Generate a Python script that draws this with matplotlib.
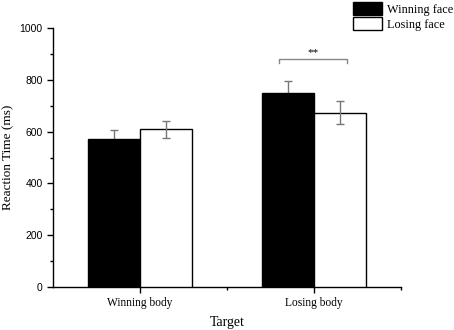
import numpy as np
import matplotlib.pyplot as plt
from matplotlib.patches import Patch

# data
targets = ["Winning body", "Losing body"]
winning_face = [572, 748]
winning_face_err = [33, 46]
losing_face = [609, 674]
losing_face_err = [34, 45]
y_ticks = [0, 200, 400, 600, 800, 1000]

plt.rcParams.update({'font.family': 'sans-serif',
                     'font.sans-serif': ['Liberation Sans'],
                     'axes.linewidth': 1.0,
                     'xtick.direction': 'out',
                     'ytick.direction': 'out'})
serif = 'Liberation Serif'

fig = plt.figure(figsize=(4.54, 3.30), dpi=100)
ax = fig.add_axes([0.117, 0.130, 0.766, 0.785])

x = np.arange(1, len(targets) + 1)
w = 0.3
ax.bar(x - w/2, winning_face, w, color='black', edgecolor='black', lw=1, zorder=3)
ax.errorbar(x - w/2, winning_face, yerr=winning_face_err, fmt='none',
            ecolor='#777777', elinewidth=1, capsize=3, capthick=1, zorder=2)
ax.bar(x + w/2, losing_face, w, color='white', edgecolor='black', lw=1, zorder=3)
ax.errorbar(x + w/2, losing_face, yerr=losing_face_err, fmt='none',
            ecolor='#777777', elinewidth=1, capsize=3, capthick=1, zorder=4)

# significance bracket
bx0, bx1, by = 1.8, 2.19, 881
ax.plot([bx0, bx0, bx1, bx1], [by - 14, by, by, by - 14], color='#888888', lw=1,
        clip_on=False)
ax.text((bx0 + bx1) / 2, by + 8, "**", ha='center', va='bottom', fontsize=8,
        family=serif)

ax.set_xlim(0.5, 2.5)
ax.set_ylim(0, 1000)
ax.set_xticks(x)
ax.set_xticklabels(targets, family=serif, fontsize=8.3)
ax.set_xticks([1.5, 2.5], minor=True)
ax.set_yticks(y_ticks)
ax.set_yticks(np.arange(100, 1000, 200), minor=True)
ax.tick_params(axis='y', labelsize=7.5, length=4, width=1)
ax.tick_params(axis='x', length=4, width=1, pad=3)
ax.tick_params(which='minor', length=2.5, width=1)
ax.spines['top'].set_visible(False)
ax.spines['right'].set_visible(False)

ax.set_ylabel("Reaction Time (ms)", family=serif, fontsize=9.5, labelpad=4)
ax.set_xlabel("Target", family=serif, fontsize=10, labelpad=5)

handles = [Patch(facecolor='black', edgecolor='black', lw=1),
           Patch(facecolor='white', edgecolor='black', lw=1)]
fig.legend(handles, ["Winning face", "Losing face"], loc='upper left',
           bbox_to_anchor=(0.764, 1.012), frameon=False, borderpad=0,
           handlelength=2.4, handleheight=1.2, labelspacing=0.15,
           handletextpad=0.4, prop={'family': serif, 'size': 8.8})

fig.savefig("out.png", dpi=100)
